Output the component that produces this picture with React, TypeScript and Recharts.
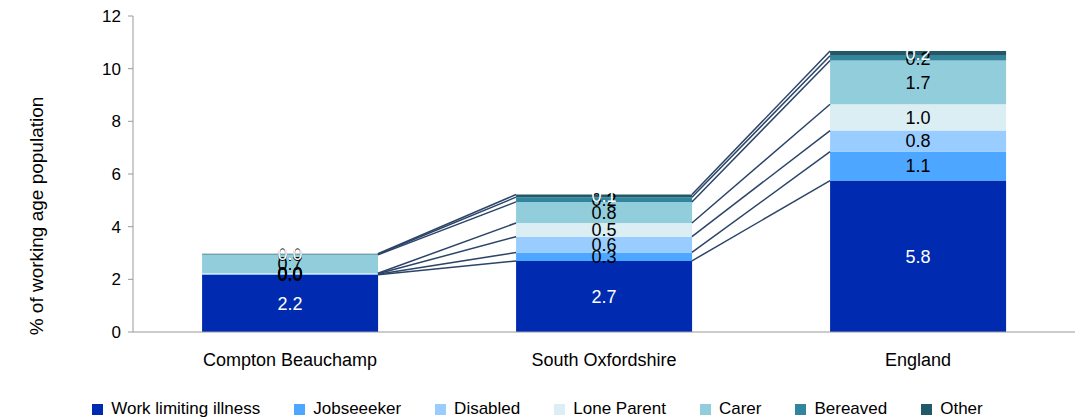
import React from "react";
import {
  Bar,
  ComposedChart,
  LabelList,
  Legend,
  Line,
  XAxis,
  YAxis,
} from "recharts";

const categories = ["Compton Beauchamp", "South Oxfordshire", "England"];
const workLimiting = [2.17, 2.7, 5.75];
const jobseeker = [0.02, 0.32, 1.1];
const disabled = [0.02, 0.6, 0.8];
const loneParent = [0.02, 0.52, 1.0];
const carer = [0.7, 0.8, 1.66];
const bereaved = [0.02, 0.18, 0.18];
const other = [0.02, 0.1, 0.18];
const yTicks = [0, 2, 4, 6, 8, 10, 12];

const series = [
  { key: "work", name: "Work limiting illness", values: workLimiting, color: "#002BB0", label: "#ffffff" },
  { key: "jobseeker", name: "Jobseeeker", values: jobseeker, color: "#4DA6FF", label: "#000000" },
  { key: "disabled", name: "Disabled", values: disabled, color: "#99CCFF", label: "#000000" },
  { key: "lone", name: "Lone Parent", values: loneParent, color: "#DAEEF3", label: "#000000" },
  { key: "carer", name: "Carer", values: carer, color: "#92CDDC", label: "#000000" },
  { key: "bereaved", name: "Bereaved", values: bereaved, color: "#31859C", label: "#000000" },
  { key: "other", name: "Other", values: other, color: "#215968", label: "#ffffff" },
];

const data = categories.map((name, i) => {
  const row: Record<string, string | number> = { name };
  series.forEach((s) => (row[s.key] = s.values[i]));
  return row;
});

// running totals per category, one per segment top
const tops = categories.map((_, i) => {
  let sum = 0;
  return series.map((s) => (sum += s.values[i]));
});

// bar half-width as a share of one category band
const half = 0.28;
const connectors: { x: number; v: number }[][] = [];
series.forEach((_, k) => {
  for (let i = 0; i < categories.length - 1; i++) {
    connectors.push([
      { x: i + 0.5 + half, v: tops[i][k] },
      { x: i + 1.5 - half, v: tops[i + 1][k] },
    ]);
  }
});

const font = "'Liberation Sans', Arial, sans-serif";

function LegendContent() {
  return (
    <div
      style={{
        display: "flex",
        justifyContent: "center",
        paddingTop: 21,
        paddingRight: 0,
        fontFamily: font,
        fontSize: 17,
        color: "#000",
        lineHeight: "20px",
      }}
    >
      {series.map((s, i) => (
        <div
          key={s.key}
          style={{ display: "flex", alignItems: "center", marginRight: i === series.length - 1 ? 0 : 34 }}
        >
          <span style={{ width: 11, height: 11, background: s.color, marginRight: 8, display: "inline-block" }} />
          {s.name}
        </div>
      ))}
    </div>
  );
}

function YLabel(props: any) {
  const vb = props.viewBox || { x: 0, y: 16, width: 133, height: 316 };
  const x = vb.x + 36;
  const y = vb.y + vb.height / 2 + 42;
  return (
    <text
      x={x}
      y={y}
      transform={`rotate(-90, ${x}, ${y})`}
      textAnchor="middle"
      dominantBaseline="central"
      fill="#000"
      fontSize={19}
      fontFamily={font}
    >
      % of working age population
    </text>
  );
}

export default function App() {
  return (
    <div style={{ position: "fixed", left: 0, top: 0, background: "#fff" }}>
      <ComposedChart
        width={1084}
        height={420}
        data={data}
        margin={{ top: 16, right: 9, left: 0, bottom: 0 }}
        barCategoryGap="22%"
      >
        <XAxis
          dataKey="name"
          xAxisId="cat"
          tickLine={false}
          axisLine={{ stroke: "#999999" }}
          tick={{ fill: "#000", fontSize: 18, fontFamily: font }}
          tickMargin={15}
          height={46}
        />
        <XAxis xAxisId="num" type="number" dataKey="x" domain={[0, 3]} hide allowDataOverflow />
        <YAxis
          width={133}
          domain={[0, 12]}
          ticks={yTicks}
          axisLine={{ stroke: "#999999" }}
          tickLine={{ stroke: "#999999" }}
          tickSize={5}
          tickMargin={7}
          tick={{ fill: "#000", fontSize: 17, fontFamily: font }}
          label={<YLabel />}
        />
        <Legend verticalAlign="bottom" height={42} content={<LegendContent />} />
        {series.map((s) => (
          <Bar
            key={s.key}
            dataKey={s.key}
            name={s.name}
            stackId="a"
            xAxisId="cat"
            fill={s.color}
            isAnimationActive={false}
          >
            <LabelList
              dataKey={s.key}
              position="center"
              formatter={(v: number) => v.toFixed(1)}
              style={{ fill: s.label, fontSize: 18, fontFamily: font }}
            />
          </Bar>
        ))}
        {connectors.map((pts, i) => (
          <Line
            key={"c" + i}
            data={pts}
            xAxisId="num"
            dataKey="v"
            stroke="#2B4468"
            strokeWidth={1.5}
            dot={false}
            legendType="none"
            isAnimationActive={false}
          />
        ))}
      </ComposedChart>
    </div>
  );
}
